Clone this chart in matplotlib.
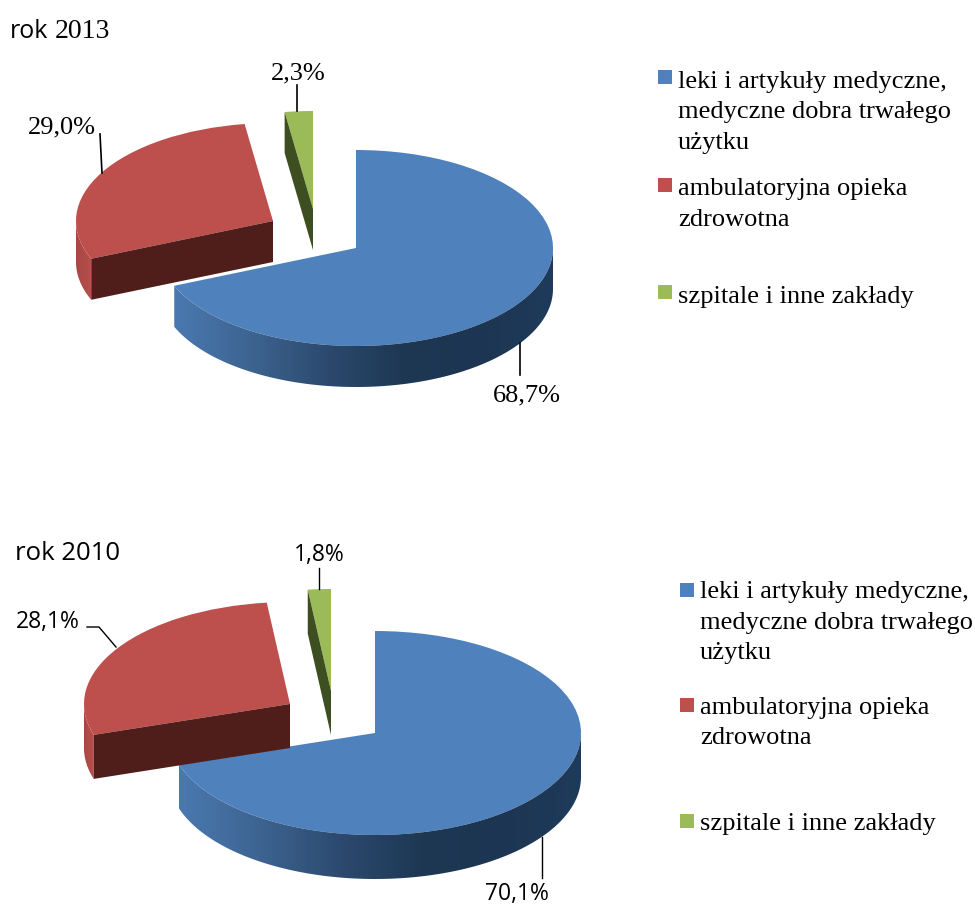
import numpy as np
import matplotlib
matplotlib.use("Agg")
import matplotlib.pyplot as plt
from matplotlib.colors import LinearSegmentedColormap
from matplotlib.patches import PathPatch, Polygon, Rectangle, Wedge
from matplotlib.path import Path
from matplotlib.transforms import Affine2D

legend_labels = [
    "leki i artykuły medyczne,\nmedyczne dobra trwałego\nużytku",
    "ambulatoryjna opieka\nzdrowotna",
    "szpitale i inne zakłady",
]
values_2013 = [68.7, 29.0, 2.3]
values_2010 = [70.1, 28.1, 1.8]
value_labels_2013 = ["68,7%", "29,0%", "2,3%"]
value_labels_2010 = ["70,1%", "28,1%", "1,8%"]

BLUE = "#4f81bd"
RED = "#bd504d"
GREEN = "#9bbb59"
DARK_RED = "#4f1e1b"
DARK_GREEN = "#3d4f20"
SERIF = "Liberation Serif"
SANS = "Open Sans"

blue_side = LinearSegmentedColormap.from_list(
    "blue_side", ["#4a79b0", "#3d6491", "#2c4a6f", "#1e3854", "#1c3552", "#1f3b5b"])
red_side = LinearSegmentedColormap.from_list("red_side", ["#a84643", "#b9504d"])


def arc(cx, cy, rx, ry, t1, t2, n=120):
    # t is degrees clockwise from the top of the ellipse
    t = np.radians(np.linspace(t1, t2, n))
    return cx + rx * np.sin(t), cy - ry * np.cos(t)


def top_face(ax, cx, cy, rx, ry, t1, t2, color):
    tr = Affine2D().scale(rx, -ry).translate(cx, cy) + ax.transData
    ax.add_patch(Wedge((0, 0), 1, 90 - t2, 90 - t1, transform=tr, fc=color, ec="none"))


def outer_side(ax, cx, cy, rx, ry, depth, t1, t2, cmap):
    x, y = arc(cx, cy, rx, ry, t1, t2)
    verts = list(zip(x, y)) + list(zip(x[::-1], y[::-1] + depth))
    path = Path(verts + [verts[0]], closed=True)
    patch = PathPatch(path, fc="none", ec="none")
    ax.add_patch(patch)
    grad = np.linspace(0, 1, 256).reshape(1, -1)
    im = ax.imshow(grad, cmap=cmap, extent=(x.min(), x.max(), y.max() + depth, y.min()),
                   aspect="auto", zorder=1.5)
    im.set_clip_path(patch)


def cut_face(ax, cx, cy, rx, ry, depth, t, color):
    x0, y0 = arc(cx, cy, rx, ry, t, t, 1)
    ax.add_patch(Polygon([(cx, cy), (x0[0], y0[0]), (x0[0], y0[0] + depth), (cx, cy + depth)],
                         fc=color, ec="none", zorder=2))


def draw_pie(ax, values, blue_c, red_c, green_c, rx, ry, depth):
    a1 = values[0] * 3.6
    a2 = a1 + values[1] * 3.6

    # red slice, moved out to the left
    cx, cy = red_c
    outer_side(ax, cx, cy, rx, ry, depth, a1, 270, red_side)
    cut_face(ax, cx, cy, rx, ry, depth, a1, DARK_RED)
    top_face(ax, cx, cy, rx, ry, a1, a2, RED)

    # green slice
    cx, cy = green_c
    cut_face(ax, cx, cy, rx, ry, depth, a2, DARK_GREEN)
    top_face(ax, cx, cy, rx, ry, a2, 360, GREEN)

    # blue slice
    cx, cy = blue_c
    outer_side(ax, cx, cy, rx, ry, depth, 90, a1, blue_side)
    top_face(ax, cx, cy, rx, ry, 0, a1, BLUE)


def draw_legend(ax, square_x, text_x, square_tops, baselines):
    for label, color, top, base in zip(legend_labels, [BLUE, RED, GREEN], square_tops, baselines):
        ax.add_patch(Rectangle((square_x, top), 14, 14, fc=color, ec="none"))
        for line, y in zip(label.split("\n"), base):
            ax.text(text_x, y, line, family=SERIF, fontsize=19, va="baseline", ha="left")


fig = plt.figure(figsize=(9.75, 9.06), dpi=100)
ax = fig.add_axes([0, 0, 1, 1])

draw_pie(ax, values_2013, (356, 248), (273, 221), (313, 209), 197, 98, 41)
draw_pie(ax, values_2010, (375, 733), (290, 704), (331, 691), 206, 102, 44)

# labels and leader lines, 2013
ax.text(10, 38, "rok", family=SANS, fontsize=18, va="baseline")
ax.text(55, 38, "2013", family=SERIF, fontsize=20, va="baseline")
ax.text(527, 395, value_labels_2013[0], family=SERIF, fontsize=19, ha="center", va="center")
ax.text(62, 127, value_labels_2013[1], family=SERIF, fontsize=19, ha="center", va="center")
ax.text(298, 73, value_labels_2013[2], family=SERIF, fontsize=19, ha="center", va="center")
ax.plot([520, 520], [343, 375], color="black", lw=1.2, zorder=4)
ax.plot([100, 102], [134, 173], color="black", lw=1.2, zorder=4)
ax.plot([297, 297], [85, 111], color="black", lw=1.2, zorder=4)

# labels and leader lines, 2010
ax.text(15, 560, "rok 2010", family=SANS, fontsize=18.5, va="baseline")
ax.text(517, 894, value_labels_2010[0], family=SANS, fontsize=16.5, ha="center", va="center")
ax.text(48, 622, value_labels_2010[1], family=SANS, fontsize=16.5, ha="center", va="center")
ax.text(319, 555, value_labels_2010[2], family=SANS, fontsize=16.5, ha="center", va="center")
ax.plot([542, 542], [837, 878], color="black", lw=1.0, zorder=4)
ax.plot([87, 99, 116], [627, 627, 647], color="black", lw=1.0, zorder=4)
ax.plot([319, 319], [568, 589], color="black", lw=1.0, zorder=4)

draw_legend(ax, 658, 678, [70, 178, 285], [[88, 118, 149], [195, 226], [303]])
draw_legend(ax, 680, 700, [583, 698, 814], [[598, 629, 659], [714, 744], [830]])

ax.set_xlim(0, 975)
ax.set_ylim(906, 0)
ax.axis("off")

plt.savefig("out.png", dpi=100)
